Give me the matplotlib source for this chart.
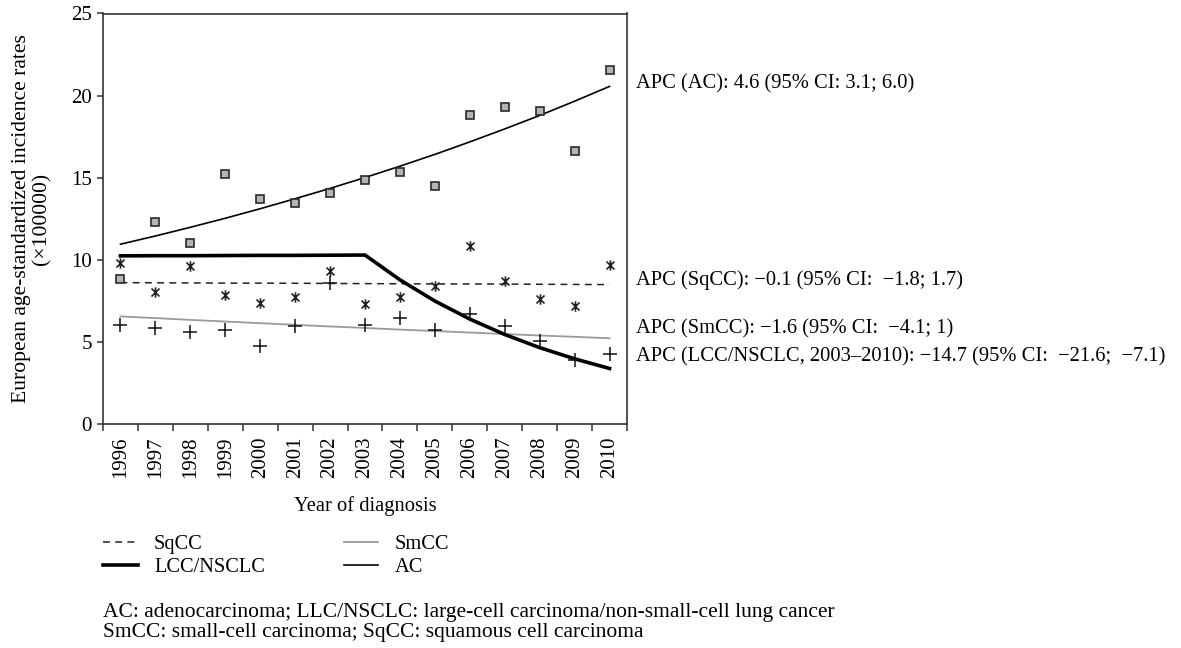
import matplotlib
matplotlib.use("Agg")
import matplotlib.pyplot as plt
from matplotlib.path import Path
from matplotlib.lines import Line2D
import numpy as np

plt.rcParams['font.family'] = ['Liberation Serif', 'DejaVu Serif']

years = ['1996', '1997', '1998', '1999', '2000', '2001', '2002', '2003',
         '2004', '2005', '2006', '2007', '2008', '2009', '2010']

# observed rates
ac_obs = [8.84, 12.33, 11.05, 15.2, 13.69, 13.46, 14.07, 14.84,
          15.32, 14.5, 18.83, 19.28, 19.05, 16.62, 21.54]
sqcc_obs = [9.80, 8.04, 9.60, 7.88, 7.37, 7.73, 9.32, 7.29,
            7.76, 8.40, 10.82, 8.71, 7.59, 7.18, 9.68]
smcc_obs = [6.02, 5.84, 5.60, 5.70, 4.73, 5.99, 8.61, 6.00,
            6.47, 5.70, 6.68, 5.99, 5.03, 3.87, 4.28]

# fitted trends
ac_fit = [10.95, 11.45, 11.98, 12.53, 13.11, 13.72, 14.35, 15.01,
          15.70, 16.42, 17.18, 17.97, 18.79, 19.66, 20.56]
sqcc_fit = [8.61, 8.60, 8.59, 8.58, 8.58, 8.57, 8.56, 8.55,
            8.54, 8.53, 8.53, 8.52, 8.51, 8.50, 8.49]
smcc_fit = [6.55, 6.45, 6.34, 6.24, 6.14, 6.04, 5.94, 5.85,
            5.75, 5.66, 5.57, 5.48, 5.39, 5.31, 5.22]
lcc_fit = [10.24, 10.25, 10.25, 10.26, 10.27, 10.27, 10.28, 10.29,
           8.78, 7.49, 6.39, 5.45, 4.65, 3.97, 3.38]

apc_labels = ['APC (AC): 4.6 (95% CI: 3.1; 6.0)',
              'APC (SqCC): \u22120.1 (95% CI:  \u22121.8; 1.7)',
              'APC (SmCC): \u22121.6 (95% CI:  \u22124.1; 1)',
              'APC (LCC/NSCLC, 2003\u20132010): \u221214.7 (95% CI:  \u221221.6;  \u22127.1)']
apc_y = [20.7, 8.75, 5.82, 4.07]

W, H = 1181, 648
fig = plt.figure(figsize=(W / 100, H / 100), dpi=100)
ax = fig.add_axes([103 / W, 1 - 424 / H, 524 / W, 410.5 / H])

x = np.arange(len(years))

# asterisk-like marker: x with vertical bar
star = Path([(-1, -1), (1, 1), (-1, 1), (1, -1), (0, -1.3), (0, 1.3)],
            [Path.MOVETO, Path.LINETO, Path.MOVETO, Path.LINETO, Path.MOVETO, Path.LINETO])

ax.plot(x, ac_fit, color='black', lw=1.2, zorder=2)
ax.plot(x, sqcc_fit, color='#222222', lw=1.1, ls=(0, (4.5, 3.5)), zorder=2)
ax.plot(x, smcc_fit, color='#9a9a9a', lw=1.3, zorder=2)
ax.plot(x, lcc_fit, color='black', lw=2.6, zorder=2)

ax.plot(x, ac_obs, ls='none', marker='s', ms=6.2, mfc='#b4b4b4', mec='#2a2a2a', mew=1.2, zorder=3)
ax.plot(x, sqcc_obs, ls='none', marker=star, ms=7.5, mec='#222222', mew=1.2, zorder=3)
ax.plot(x, smcc_obs, ls='none', marker='+', ms=10.5, mec='#111111', mew=1.1, zorder=3)

ax.set_xlim(-0.5, len(years) - 0.5)
ax.set_ylim(0, 25)
ax.set_yticks([0, 5, 10, 15, 20, 25])
ax.set_xticks(np.arange(len(years) + 1) - 0.5)
ax.set_xticklabels([])
ax.set_xticks(x, minor=True)
ax.set_xticklabels(years, minor=True, rotation=90, fontsize=15)
ax.tick_params(axis='x', which='minor', length=0, pad=9)
ax.tick_params(axis='x', which='major', length=5, width=1.1, direction='out', color='#333333')
ax.tick_params(axis='y', length=4.5, width=1.1, direction='out', color='#333333', labelsize=15, pad=3.5)
for s in ax.spines.values():
    s.set_linewidth(1.2)
    s.set_color('#333333')

ax.set_xlabel('Year of diagnosis', fontsize=14.8, labelpad=13)
ax.set_ylabel('European age-standardized incidence rates\n(\u00d7100000)', fontsize=15.6,
              labelpad=14, linespacing=1.1)

trans = matplotlib.transforms.blended_transform_factory(ax.transAxes, ax.transData)
for lab, yv in zip(apc_labels, apc_y):
    ax.text(1.017, yv, lab, transform=trans, fontsize=14.8, va='center', ha='left')

handles = [Line2D([], [], color='#222222', lw=1.1, ls=(0, (4.5, 3.5))),
           Line2D([], [], color='black', lw=2.6),
           Line2D([], [], color='#9a9a9a', lw=1.3),
           Line2D([], [], color='black', lw=1.2)]
labels = ['SqCC', 'LCC/NSCLC', 'SmCC', 'AC']
fig.legend(handles, labels, loc='upper left', bbox_to_anchor=(103 / W, 1 - 535 / H),
           ncol=2, frameon=False, fontsize=14.7, handlelength=1.7, handletextpad=0.8,
           columnspacing=3.85, labelspacing=0.18, borderaxespad=0, borderpad=0)

fig.text(103 / W, 1 - 612 / H, 'AC: adenocarcinoma; LLC/NSCLC: large-cell carcinoma/non-small-cell lung cancer',
         fontsize=15.5, va='center', ha='left')
fig.text(103 / W, 1 - 633 / H, 'SmCC: small-cell carcinoma; SqCC: squamous cell carcinoma',
         fontsize=15.5, va='center', ha='left')

fig.savefig('out.png', dpi=100)
